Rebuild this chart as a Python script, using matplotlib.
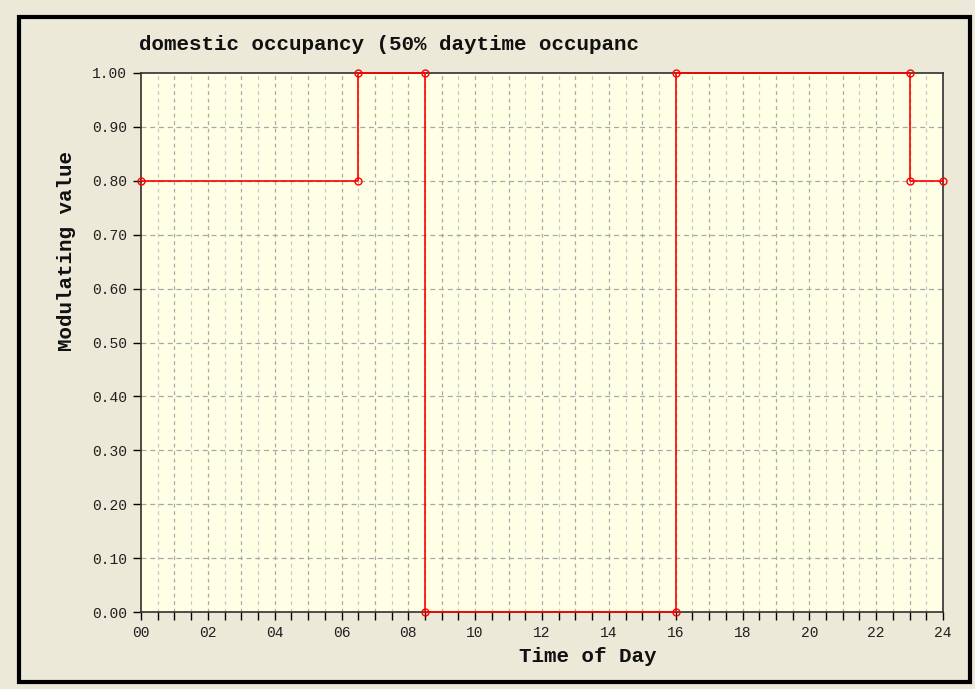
import numpy as np
from matplotlib import pyplot as plt
from matplotlib.patches import Rectangle

# schedule data (hour of day, modulating value)
hours = [0, 6.5, 6.5, 8.5, 8.5, 16, 16, 23, 23, 24]
values = [0.8, 0.8, 1.0, 1.0, 0.0, 0.0, 1.0, 1.0, 0.8, 0.8]

title = "domestic occupancy (50% daytime occupanc"
x_label = "Time of Day"
y_label = "Modulating value"

mono = "Liberation Mono"
bg = "#ECE9D8"

fig = plt.figure(figsize=(9.75, 6.89), dpi=100, facecolor=bg)

# outer black frame
fig.patches.append(Rectangle((19 / 975, 1 - 682 / 689), 951 / 975, 665 / 689,
                             transform=fig.transFigure, fill=False,
                             edgecolor="black", linewidth=3, zorder=0))

ax = fig.add_axes([141 / 975, 1 - 612 / 689, 802 / 975, 539 / 689])
ax.set_facecolor("#FFFFE6")

ax.plot(hours, values, color="#FF0000", linewidth=1.2, marker="o",
        markersize=5, markerfacecolor="none", markeredgecolor="#FF0000",
        markeredgewidth=1, clip_on=False, zorder=5)

ax.set_xlim(0, 24)
ax.set_ylim(0, 1)

ax.set_xticks(np.arange(0, 25, 2))
ax.set_xticklabels([f"{h:02d}" for h in range(0, 25, 2)])
ax.set_xticks(np.arange(0, 24.01, 0.5), minor=True)
ax.set_yticks(np.arange(0, 1.01, 0.1))
ax.set_yticklabels([f"{v:.2f}" for v in np.arange(0, 1.01, 0.1)])

ax.tick_params(axis="both", which="major", direction="out", length=6,
               width=1, labelsize=10.5, colors="black", pad=4)
ax.tick_params(axis="x", which="minor", direction="out", length=6, width=1)
for lab in ax.get_xticklabels() + ax.get_yticklabels():
    lab.set_fontfamily(mono)
    lab.set_color("#202020")

# grid lines
for h in np.arange(0.5, 24, 0.5):
    c = "#A8A8A8" if h % 1 == 0 else "#C8C8C8"
    ax.axvline(h, color=c, linestyle=(0, (3, 3)), linewidth=0.9, zorder=1)
for v in np.arange(0.1, 1.0, 0.1):
    ax.axhline(v, color="#A8A8A8", linestyle=(0, (4, 3)), linewidth=0.9, zorder=1)

for s in ax.spines.values():
    s.set_color("#303030")
    s.set_linewidth(1.2)

fig.text(588 / 975, 1 - 657 / 689, x_label, fontfamily=mono,
         fontweight="bold", fontsize=15, ha="center", va="center",
         color="#111111")
fig.text(67 / 975, 1 - 251 / 689, y_label, fontfamily=mono,
         fontweight="bold", fontsize=15, ha="center", va="center",
         rotation=90, color="#111111")
fig.text(139 / 975, 1 - 45 / 689, title, fontfamily=mono, fontweight="bold",
         fontsize=15, va="center", ha="left", color="#111111")

plt.savefig("out.png", dpi=100, facecolor=bg)
